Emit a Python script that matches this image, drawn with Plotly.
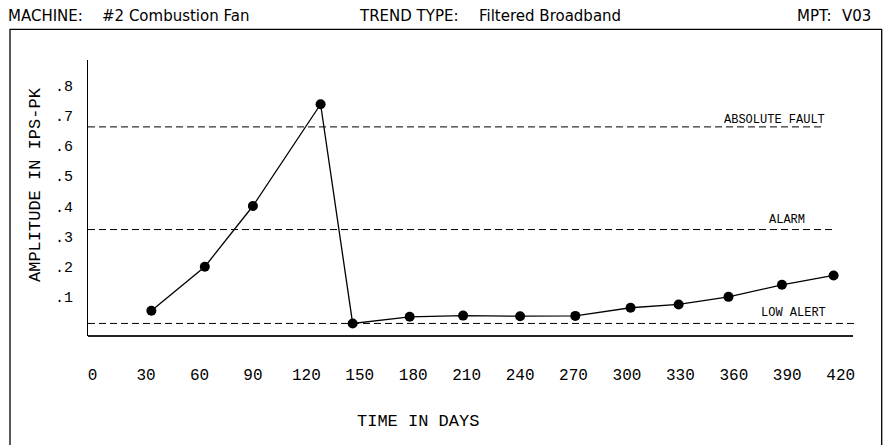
import plotly.graph_objects as go

# ---- data ----
days = [33, 63, 90, 128, 146, 178, 208, 240, 271, 302, 329, 357, 387, 416]
amplitude = [0.054, 0.200, 0.401, 0.738, 0.012, 0.034, 0.038, 0.036, 0.037,
             0.064, 0.075, 0.100, 0.140, 0.171]

threshold_names = ["ABSOLUTE FAULT", "ALARM", "LOW ALERT"]
threshold_values = [0.663, 0.323, 0.012]

x_tick_values = [0, 30, 60, 90, 120, 150, 180, 210, 240, 270, 300, 330, 360, 390, 420]
x_tick_labels = [str(v) for v in x_tick_values]
y_tick_values = [0.1, 0.2, 0.3, 0.4, 0.5, 0.6, 0.7, 0.8]
y_tick_labels = [".1", ".2", ".3", ".4", ".5", ".6", ".7", ".8"]

header_labels = ["MACHINE:", "#2 Combustion Fan", "TREND TYPE:", "Filtered Broadband", "MPT:", "V03"]

# ---- layout constants ----
W, H = 887, 445
L, R, T, B = 88, 29, 60, 109
PW, PH = W - L - R, H - T - B
X_RANGE = [-2.58, 429.7]
Y_RANGE = [-0.0296, 0.8846]

def px_x(px):
    return (px - L) / PW

def px_y(py):
    return (H - B - py) / PH

MONO = "Liberation Mono"
SANS = "DejaVu Sans"

fig = go.Figure()
fig.add_trace(go.Scatter(
    x=days, y=amplitude, mode="lines+markers",
    line=dict(color="black", width=1.3),
    marker=dict(color="black", size=10),
    showlegend=False, hoverinfo="x+y",
))

shapes = []
annotations = []

# threshold dashed lines and their labels
line_ends = [410.2, 415.7, 429.1]
label_right = [412.1, 400.9, 413.0]
label_shift = [5, 8, 8]
for name, val, xe, xr, ys in zip(threshold_names, threshold_values, line_ends, label_right, label_shift):
    shapes.append(dict(type="line", xref="x", yref="y", x0=X_RANGE[0], x1=xe, y0=val, y1=val,
                       line=dict(color="black", width=1, dash="7px,4px")))
    annotations.append(dict(x=xr, y=val, xref="x", yref="y", text=name, showarrow=False,
                            xanchor="right", yanchor="bottom", yshift=ys - 7,
                            font=dict(family=MONO, size=12, color="black")))

# bottom axis line
shapes.append(dict(type="line", xref="x", yref="paper", x0=X_RANGE[0], x1=426.9, y0=0, y1=0,
                   line=dict(color="#222", width=2)))
# outer frame
shapes.append(dict(type="rect", xref="paper", yref="paper",
                   x0=px_x(10), x1=px_x(881.7), y0=px_y(448), y1=px_y(29.3),
                   line=dict(color="black", width=1.3)))

# header texts
header_x = [6, 100, 357, 477, 795, 840]
for txt, hx in zip(header_labels, header_x):
    annotations.append(dict(x=px_x(hx), y=px_y(16), xref="paper", yref="paper", text=txt,
                            showarrow=False, xanchor="left", yanchor="middle",
                            font=dict(family=SANS, size=15, color="black")))

# axis titles
annotations.append(dict(x=px_x(35), y=px_y(185), xref="paper", yref="paper",
                        text="AMPLITUDE IN IPS-PK", textangle=-90, showarrow=False,
                        xanchor="center", yanchor="middle",
                        font=dict(family=MONO, size=17, color="black")))
annotations.append(dict(x=px_x(418), y=px_y(421), xref="paper", yref="paper",
                        text="TIME IN DAYS", showarrow=False,
                        xanchor="center", yanchor="middle",
                        font=dict(family=MONO, size=17, color="black")))

fig.update_layout(
    width=W, height=H, autosize=False,
    margin=dict(l=L, r=R, t=T, b=B, pad=0),
    paper_bgcolor="white", plot_bgcolor="white",
    shapes=shapes, annotations=annotations,
    xaxis=dict(range=X_RANGE, tickvals=x_tick_values, ticktext=x_tick_labels,
               showgrid=False, zeroline=False, showline=False, ticks="",
               ticklabelstandoff=27,
               tickfont=dict(family=MONO, size=16, color="black")),
    yaxis=dict(range=Y_RANGE, tickvals=y_tick_values, ticktext=y_tick_labels,
               showgrid=False, zeroline=False, showline=True, linecolor="black",
               linewidth=1.2, ticks="", ticklabelstandoff=11,
               tickfont=dict(family=MONO, size=15, color="black")),
)

fig.write_html("out.html", config={"displayModeBar": False})
with open("out.html", "r", encoding="utf-8") as f:
    html = f.read()
html = html.replace("<head>", "<head><style>html,body{margin:0;padding:0;overflow:hidden}</style>", 1)
with open("out.html", "w", encoding="utf-8") as f:
    f.write(html)
